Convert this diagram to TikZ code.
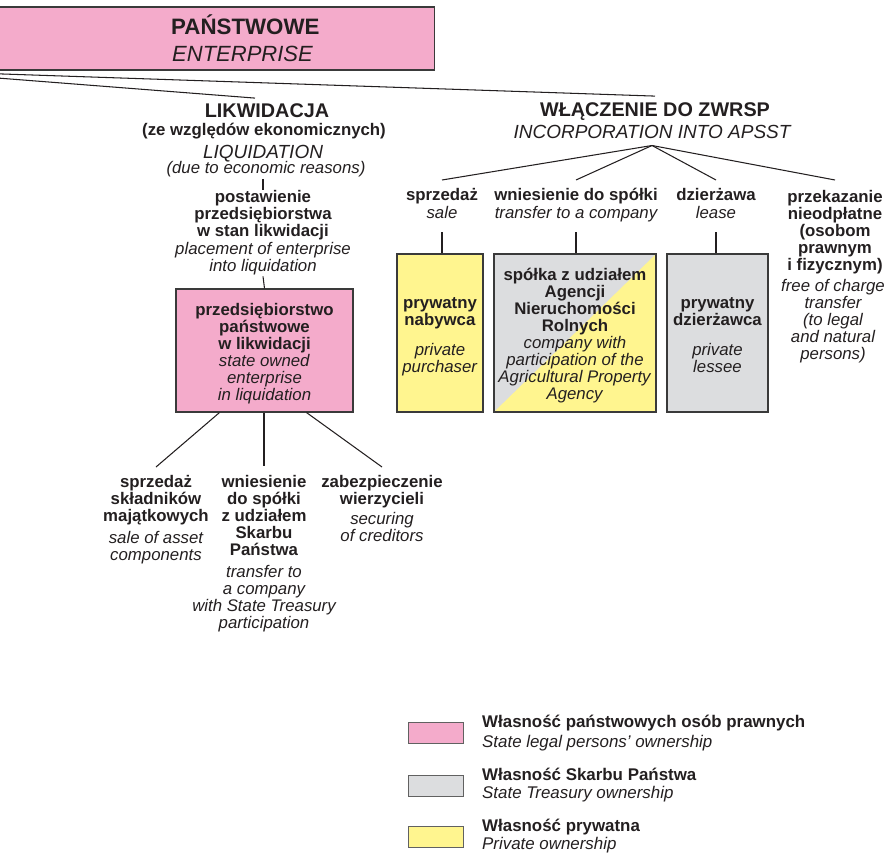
\documentclass[tikz,border=0pt]{standalone}
\usepackage{fontspec}
\setmainfont{Liberation Sans}
\usetikzlibrary{backgrounds}
\definecolor{ink}{HTML}{231F20}
\definecolor{edge}{HTML}{3A3A3A}
\definecolor{pinkc}{HTML}{F4ABCB}
\definecolor{yellowc}{HTML}{FFF58F}
\definecolor{grayc}{HTML}{DCDDDF}
\newcommand\downby[1]{\rule{0pt}{\dimexpr 11.9pt+#1\relax}}
\begin{document}
\begin{tikzpicture}[x=1pt,y=-1pt,
  conn/.style={draw=ink, line width=1.05pt},
  hd/.style={inner sep=0pt, text=ink, font=\bfseries\fontsize{19.8}{21}\selectfont, execute at begin node=\strut},
  hdit/.style={hd, font=\itshape\fontsize{19}{21}\selectfont},
  pl/.style={align=center, inner sep=0pt, text=ink, font=\bfseries\fontsize{16.8}{17}\selectfont, execute at begin node=\strut, execute at end node=\strut},
  en/.style={pl, font=\itshape\fontsize{16.8}{17}\selectfont},
  box/.style={draw=edge, line width=1.1pt, inner sep=0pt, align=center, text=ink, font=\fontsize{16.8}{17}\selectfont, execute at begin node=\strut, execute at end node=\strut},
  lg/.style={align=left, inner sep=0pt, text=ink, font=\fontsize{16.9}{17}\selectfont, execute at begin node=\strut, execute at end node=\strut},
  swatch/.style={draw=edge!80, line width=1pt, minimum width=55pt, minimum height=21pt, inner sep=0pt}
]
\useasboundingbox (0,0) rectangle (889,856);
\clip (0,0) rectangle (889,856);

% top box (cut at the left edge)
\node[draw=edge, line width=1.1pt, fill=pinkc, minimum width=1064pt, minimum height=63pt, inner sep=0pt, anchor=north east] (ent) at (435,6.5) {};
\node[inner sep=0pt, text=ink, font=\bfseries\fontsize{22.3}{24}\selectfont, anchor=base west] (entpl) at (171,35) {PAŃSTWOWE};
\node[inner sep=0pt, text=ink, font=\itshape\fontsize{22}{24}\selectfont, anchor=base west] (enten) at (172,62) {ENTERPRISE};

% liquidation branch
\node[hd, anchor=base] (likw) at (267,118) {LIKWIDACJA};
\node[pl, anchor=base] (likwpl) at (264,135.5) {(ze względów ekonomicznych)};
\node[hdit, anchor=base] (liq) at (263,158) {LIQUIDATION};
\node[en, anchor=base] (likwen) at (266,173.5) {(due to economic reasons)};

\node[pl, anchor=north] (post) at (263,190) {postawienie\\przedsiębiorstwa\\w stan likwidacji};
\node[en, anchor=north] (posten) at (post.south) {placement of enterprise\\into liquidation};

\node[box, fill=pinkc, minimum width=177pt, minimum height=123pt] (pink) at (264.5,350.5)
  {\downby{8pt}\textbf{przedsiębiorstwo}\\\textbf{państwowe}\\\textbf{w likwidacji}\\\textit{state owned}\\\textit{enterprise}\\\textit{in liquidation}};

\node[pl, anchor=north] (sal) at (156,475) {sprzedaż\\składników\\majątkowych};
\node[en, anchor=north] (salen) at ([yshift=-4pt]sal.south) {sale of asset\\components};
\node[pl, anchor=north] (wsp) at (264,475) {wniesienie\\do spółki\\z udziałem\\Skarbu\\Państwa};
\node[en, anchor=north] (wspen) at ([yshift=-4pt]wsp.south) {transfer to\\a company\\with State Treasury\\participation};
\node[pl, anchor=north] (zab) at (382,475) {zabezpieczenie\\wierzycieli};
\node[en, anchor=north] (zaben) at ([yshift=-2pt]zab.south) {securing\\of creditors};

% incorporation branch
\node[hd, anchor=base] (wl) at (655,117) {WŁĄCZENIE DO ZWRSP};
\node[hdit, anchor=base] (aps) at (652,139) {INCORPORATION INTO APSST};

\node[pl, anchor=north] (sp) at (442,188) {sprzedaż};
\node[en, anchor=north] (spen) at (sp.south) {sale};
\node[pl, anchor=north] (tc) at (576,188) {wniesienie do spółki};
\node[en, anchor=north] (tcen) at (tc.south) {transfer to a company};
\node[pl, anchor=north] (dz) at (716,188) {dzierżawa};
\node[en, anchor=north] (dzen) at (dz.south) {lease};
\node[pl, anchor=north] (pn) at (835,190) {przekazanie\\nieodpłatne\\(osobom\\prawnym\\i fizycznym)};
\node[en, anchor=north] (pnen) at ([xshift=-2pt,yshift=-3pt]pn.south) {free of charge\\transfer\\(to legal\\and natural\\persons)};

\node[box, fill=yellowc, minimum width=86pt, minimum height=158pt] (pb) at (440,333)
  {\downby{8pt}\textbf{prywatny}\\\textbf{nabywca}\\[13pt]\textit{private}\\\textit{purchaser}};
\node[box, minimum width=162pt, minimum height=158pt] (co) at (575,333)
  {\downby{7pt}\textbf{spółka z udziałem}\\\textbf{Agencji}\\\textbf{Nieruchomości}\\\textbf{Rolnych}\\\textit{company with}\\\textit{participation of the}\\\textit{Agricultural Property}\\\textit{Agency}};
\node[box, fill=grayc, minimum width=101pt, minimum height=158pt] (le) at (717.5,333)
  {\downby{8pt}\textbf{prywatny}\\\textbf{dzierżawca}\\[13pt]\textit{private}\\\textit{lessee}};
\begin{scope}[on background layer]
  \fill[grayc] (co.south west) rectangle (co.north east);
  \fill[yellowc] (co.south west) -- (co.south east) -- (co.north east) -- cycle;
\end{scope}

% connectors
\draw[conn] (ent.south) -- ([xshift=-12pt,yshift=5pt]likw.north);
\draw[conn] (ent.south) -- ([yshift=6pt]wl.north);
\draw[conn] (likwen.south -| post.north) -- (post.north);
\draw[conn] (posten.south) -- (pink.north);
\draw[conn] ([xshift=-45pt]pink.south) -- ([yshift=8pt]sal.north);
\draw[conn] (pink.south -| wsp.north) -- ([yshift=9pt]wsp.north);
\draw[conn] ([xshift=42pt]pink.south) -- ([yshift=8pt]zab.north);
\draw[conn] (aps.south) -- ([yshift=8pt]sp.north);
\draw[conn] (aps.south) -- ([yshift=8pt]tc.north);
\draw[conn] (aps.south) -- ([yshift=8pt]dz.north);
\draw[conn] (aps.south) -- ([yshift=10pt]pn.north);
\draw[conn] ([yshift=-9pt]spen.south) -- (spen.south |- pb.north);
\draw[conn] ([yshift=-9pt]tcen.south) -- (tcen.south |- co.north);
\draw[conn] ([yshift=-9pt]dzen.south) -- (dzen.south |- le.north);

% legend
\node[swatch, fill=pinkc] (l1) at (435.5,732.5) {};
\node[lg, anchor=west] (t1) at (482,733.5) {\textbf{Własność państwowych osób prawnych}\\[3pt]\textit{State legal persons’ ownership}};
\node[swatch, fill=grayc] (l2) at (435.5,785.5) {};
\node[lg, anchor=west] (t2) at (482,785.6) {\textbf{Własność Skarbu Państwa}\\[1pt]\textit{State Treasury ownership}};
\node[swatch, fill=yellowc] (l3) at (435.5,837) {};
\node[lg, anchor=west] (t3) at (482,836.6) {\textbf{Własność prywatna}\\[1pt]\textit{Private ownership}};
\end{tikzpicture}
\end{document}
